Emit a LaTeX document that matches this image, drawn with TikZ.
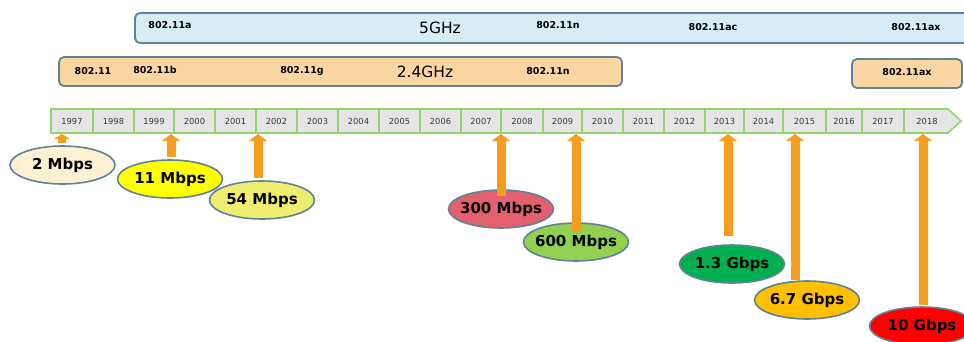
\documentclass[tikz,border=0pt]{standalone}
\usepackage{fontspec}
\setmainfont{DejaVu Sans}
\usetikzlibrary{arrows.meta,calc,shapes.geometric}

\definecolor{bandblue}{HTML}{D7ECF5}
\definecolor{bandpeach}{HTML}{FBD5A2}
\definecolor{bandline}{HTML}{5E8298}
\definecolor{tlgreen}{HTML}{94D46E}
\definecolor{tlcell}{HTML}{E5E5E5}
\definecolor{riseorange}{HTML}{F59D20}
\definecolor{rcream}{HTML}{FDF1D2}
\definecolor{ryellow}{HTML}{FFFF00}
\definecolor{rkhaki}{HTML}{F0EE70}
\definecolor{rrose}{HTML}{E3616E}
\definecolor{rlime}{HTML}{92D050}
\definecolor{rgreen}{HTML}{00B050}
\definecolor{ramber}{HTML}{FFC000}
\definecolor{rred}{HTML}{FF0000}

\begin{document}
\begin{tikzpicture}[x=1pt,y=-1pt,
  band/.style={draw=bandline,line width=1.8pt,rounded corners=5pt},
  std/.style={inner sep=0pt,font=\bfseries\fontsize{9.5}{10}\selectfont},
  bandname/.style={inner sep=0pt,font=\fontsize{15.5}{17}\selectfont},
  yearcell/.style={draw=tlgreen,line width=1.5pt,fill=tlcell,minimum height=24pt,
    inner sep=0pt,font=\fontsize{8.3}{9}\selectfont,text=black!78},
  yeartext/.style={inner sep=0pt,font=\fontsize{8.3}{9}\selectfont,text=black!78},
  rate/.style={ellipse,draw=bandline,line width=1.6pt,minimum width=105pt,
    minimum height=38pt,inner sep=0pt,font=\bfseries\fontsize{15}{16}\selectfont},
  rise/.style={draw=riseorange,line width=9pt,-{Triangle[width=18pt,length=7pt]}}]

\clip (0,0) rectangle (964,341);
\fill[white] (0,0) rectangle (964,341);

% frequency bands
\draw[band,fill=bandblue] (135,13) rectangle (972,43);
\node[std] (a5) at (170,25) {802.11a};
\node[bandname] (ghz5) at (440,28) {5GHz};
\node[std] (n5) at (558,25) {802.11n};
\node[std] (ac5) at (713,27) {802.11ac};
\node[std] (ax5) at (916,27) {802.11ax};

\draw[band,fill=bandpeach] (59,57) rectangle (622,86);
\node[std] (legacy) at (93,71) {802.11};
\node[std] (b24) at (155,70) {802.11b};
\node[std] (g24) at (302,71) {802.11g};
\node[bandname] (ghz24) at (425,72) {2.4GHz};
\node[std] (n24) at (548,71) {802.11n};

\draw[band,fill=bandpeach] (852,59) rectangle (962,88);
\node[std] (ax24) at (907,72) {802.11ax};

% timeline of years
\draw[draw=tlgreen,line width=1.6pt,fill=tlcell]
  (51,109) -- (948,109) -- (961,121) -- (948,133) -- (51,133) -- cycle;
\foreach \a/\b/\yr in {51/93/1997,93/134/1998,134/174/1999,174/215/2000,
    215/256/2001,256/297/2002,297/338/2003,338/379/2004,379/420/2005,
    420/461/2006,461/501/2007,501/543/2008,543/582/2009,582/623/2010,
    623/664/2011,664/705/2012,705/744/2013,744/783/2014,783/826/2015,
    826/862/2016,862/904/2017}
  \node[yearcell,minimum width={(\b-\a)*1pt}] (y\yr) at ({(\a+\b)/2},121) {\yr};
\node[yeartext] (y2018) at (927,121) {2018};

% data rates
\node[rate,fill=rcream]  (r2)   at (62.5,165) {\makebox[0pt]{2 Mbps}};
\node[rate,fill=ryellow] (r11)  at (170,179)  {\makebox[0pt]{11 Mbps}};
\node[rate,fill=rkhaki]  (r54)  at (262,200)  {\makebox[0pt]{54 Mbps}};
\node[rate,fill=rrose]   (r300) at (501,209)  {\makebox[0pt]{300 Mbps}};
\node[rate,fill=rlime]   (r600) at (576,242)  {\makebox[0pt]{600 Mbps}};
\node[rate,fill=rgreen]  (r13)  at (732,264)  {\makebox[0pt]{1.3 Gbps}};
\node[rate,fill=ramber]  (r67)  at (807,300)  {\makebox[0pt]{6.7 Gbps}};
\node[rate,fill=rred]    (r10)  at (922,326)  {\makebox[0pt]{10 Gbps}};

% arrows up to the year of each standard
\coordinate (t2)   at (62,134);
\coordinate (t11)  at (171,134);
\coordinate (t54)  at (258,134);
\coordinate (t300) at (501,134);
\coordinate (t600) at (576,134);
\coordinate (t13)  at (728,134);
\coordinate (t67)  at (795,134);
\coordinate (t10)  at (923,134);
\draw[rise,-{Triangle[width=16pt,length=5pt]},line width=8pt]
  ($(r2.north -| t2)+(0,-2)$) -- (t2);
\draw[rise] ($(r11.north -| t11)+(0,-2)$) -- (t11);
\draw[rise] ($(r54.north -| t54)+(0,-2)$) -- (t54);
\draw[rise] ($(r300.north -| t300)+(0,7)$) -- (t300);
\draw[rise] ($(r600.north -| t600)+(0,9)$) -- (t600);
\draw[rise] ($(r13.north -| t13)+(0,-8)$) -- (t13);
\draw[rise] ($(r67.north -| t67)+(0,0)$) -- (t67);
\draw[rise] ($(r10.north -| t10)+(0,-1)$) -- (t10);
\end{tikzpicture}
\end{document}
